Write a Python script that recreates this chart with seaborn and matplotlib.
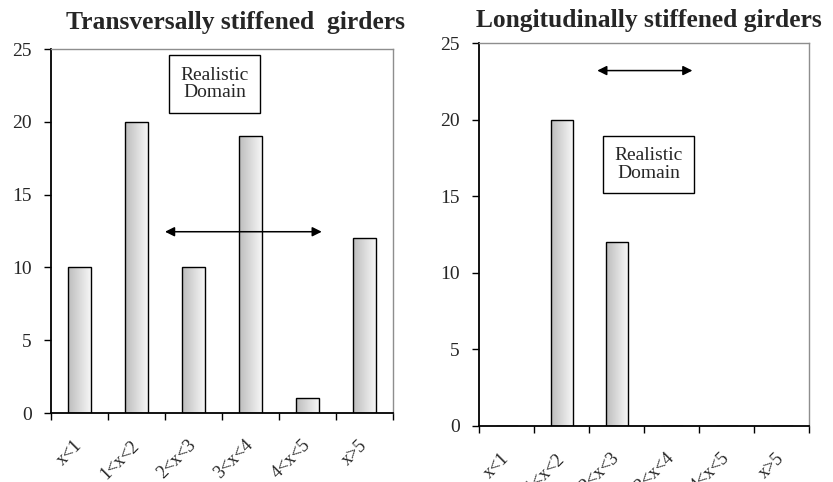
import numpy as np
import pandas as pd
import seaborn as sns
import matplotlib
matplotlib.use("Agg")
import matplotlib.pyplot as plt
import matplotlib.transforms as mtransforms
from matplotlib.colors import LinearSegmentedColormap

# Number of girders per slenderness class
categories = ["x<1", "1<x<2", "2<x<3", "3<x<4", "4<x<5", "x>5"]
transversal_counts = [10, 20, 10, 19, 1, 12]
longitudinal_counts = [0, 20, 12, 0, 0, 0]
panel_titles = ["Transversally stiffened  girders", "Longitudinally stiffened girders"]
y_ticks = [0, 5, 10, 15, 20, 25]
domain_label = "Realistic\nDomain"

sns.set_theme(style="white")
plt.rcParams["font.family"] = ["Liberation Serif", "DejaVu Serif"]

fig = plt.figure(figsize=(8.33, 4.82), dpi=100)
ax_l = fig.add_axes([51 / 833, 69 / 482, 342 / 833, 364 / 482])
ax_r = fig.add_axes([479 / 833, 56 / 482, 330 / 833, 383 / 482])

shade = LinearSegmentedColormap.from_list("shade", ["#bdbdbd", "#f6f6f6"])
ramp = np.linspace(0, 1, 64).reshape(1, -1)


def draw_panel(ax, values):
    df = pd.DataFrame({"cls": categories, "n": values})
    sns.barplot(data=df, x="cls", y="n", ax=ax, width=0.4, color="white",
                edgecolor="black", linewidth=1.0, saturation=1)
    for p in ax.patches:
        x0, y0 = p.get_x(), p.get_y()
        w, h = p.get_width(), p.get_height()
        if h <= 0:
            continue
        im = ax.imshow(ramp, cmap=shade, aspect="auto",
                       extent=(x0, x0 + w, y0, y0 + h), zorder=p.get_zorder() - 0.1)
        im.set_clip_path(p)
        p.set_facecolor("none")
    ax.set_xlim(-0.5, len(categories) - 0.5)
    ax.set_ylim(0, 25)
    ax.set_yticks(y_ticks)
    ax.set_xlabel("")
    ax.set_ylabel("")
    ax.set_xticks(range(len(categories)))
    ax.set_xticklabels(categories, rotation=45, ha="right", va="center",
                       rotation_mode="anchor")
    shift = mtransforms.ScaledTranslation(-4 / 100, 0, fig.dpi_scale_trans)
    for lab in ax.get_xticklabels():
        lab.set_transform(lab.get_transform() + shift)
    ax.set_xticks(np.arange(-0.5, len(categories)), minor=True)
    ax.tick_params(axis="x", which="major", length=0, pad=21.5, labelsize=13)
    ax.tick_params(axis="x", which="minor", direction="out", length=5,
                   width=1, color="black", bottom=True)
    ax.tick_params(axis="y", direction="out", length=5, width=1, color="black",
                   left=True, pad=9, labelsize=14)
    for side in ("left", "bottom"):
        ax.spines[side].set_color("black")
        ax.spines[side].set_linewidth(1.3)
    for side in ("top", "right"):
        ax.spines[side].set_color("#8e8e8e")
        ax.spines[side].set_linewidth(1.0)
    ax.grid(False)


draw_panel(ax_l, transversal_counts)
draw_panel(ax_r, longitudinal_counts)

box = dict(boxstyle="square,pad=0.58", facecolor="white", edgecolor="black", linewidth=1.0)
arrow = dict(arrowstyle="<|-|>", color="black", lw=1.1, mutation_scale=14,
             shrinkA=0, shrinkB=0)

ax_l.text(2.37, 22.6, domain_label, ha="center", va="center", fontsize=14,
          bbox=box, linespacing=1.05)
ax_l.annotate("", xy=(4.25, 12.45), xytext=(1.5, 12.45), arrowprops=arrow)

ax_r.text(2.59, 17.07, domain_label, ha="center", va="center", fontsize=14,
          bbox=box, linespacing=1.05)
ax_r.annotate("", xy=(3.38, 23.2), xytext=(1.65, 23.2), arrowprops=arrow)

fig.text(235.5 / 833, 1 - 22 / 482, panel_titles[0], ha="center", va="center",
         fontsize=18.4, fontweight="bold")
fig.text(649 / 833, 1 - 20 / 482, panel_titles[1], ha="center", va="center",
         fontsize=18.4, fontweight="bold")

fig.savefig("out.png", dpi=100, facecolor="white")
